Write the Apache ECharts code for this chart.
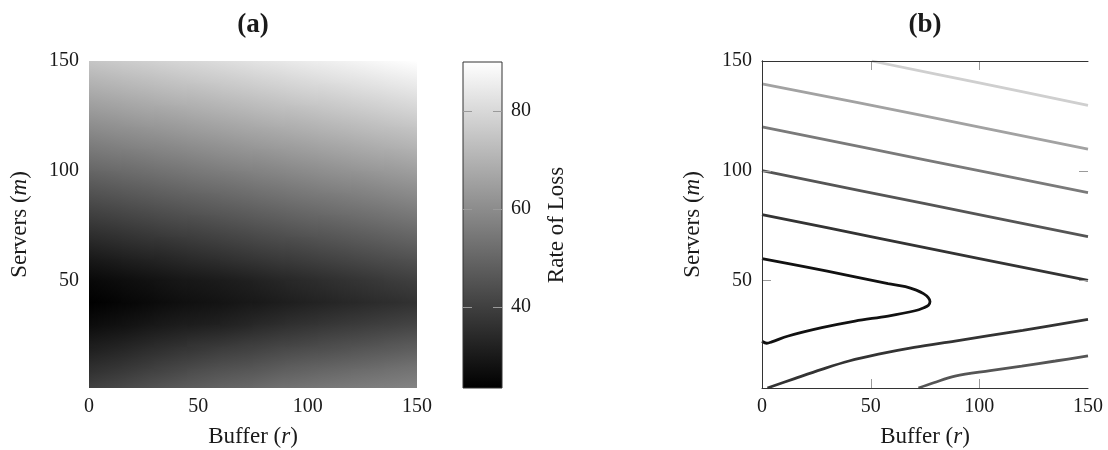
<!DOCTYPE html>
<html>
<head>
<meta charset="utf-8">
<script src="https://cdn.jsdelivr.net/npm/echarts@6/dist/echarts.min.js"></script>
<style>
html,body{margin:0;padding:0;background:#fff;}
#chart{width:1108px;height:450px;}
</style>
</head>
<body>
<div id="chart"></div>
<script>
// ---------- data ----------
const bufferTicks = [0, 50, 100, 150];
const serverTicks = [50, 100, 150];
const innerTicks = [50, 100];
const lossTicks = [40, 60, 80];
const lossMin = 23.5;
const lossMax = 90;

// heat map grid: columns = buffer r, rows = servers m (bottom to top)
const bufferX = [0, 15, 30, 45, 60, 75, 90, 105, 120, 135, 150];
const serversY = [1, 10, 20, 30, 40, 50, 60, 70, 80, 90, 100, 110, 120, 130, 140, 150];
const rateOfLoss = [
  [40, 42.3, 45, 47.3, 49, 50.8, 52.8, 54.4, 55.6, 56.6, 57.5],
  [35.5, 37.6, 40, 42.3, 44.5, 45.6, 47.9, 49.3, 50.7, 52, 53.4],
  [31, 32.6, 34.8, 36.7, 38.5, 40, 41.6, 43.1, 44.5, 46, 47.4],
  [26.5, 27.9, 29.6, 31, 31.8, 33.8, 35.7, 37.2, 38.6, 40, 41.3],
  [23.6, 25, 26.3, 27.6, 28.7, 29.9, 31.3, 32.6, 34, 35.3, 36.5],
  [25.6, 26.9, 28.2, 29.7, 30.6, 32, 33.8, 35.3, 36.9, 38.5, 40],
  [30, 31.5, 33, 34.5, 36, 37.5, 39, 40.5, 42, 43.5, 45],
  [35, 36.5, 38, 39.5, 41, 42.5, 44, 45.5, 47, 48.5, 50],
  [40, 41.5, 43, 44.5, 46, 47.5, 49, 50.5, 52, 53.5, 55],
  [45, 46.5, 48, 49.5, 51, 52.5, 54, 55.5, 57, 58.5, 60],
  [50, 51.5, 53, 54.5, 56, 57.5, 59, 60.5, 62, 63.5, 65],
  [55, 56.5, 58, 59.5, 61, 62.5, 64, 65.5, 67, 68.5, 70],
  [60, 61.5, 63, 64.5, 66, 67.5, 69, 70.5, 72, 73.5, 75],
  [65, 66.5, 68, 69.5, 71, 72.5, 74, 75.5, 77, 78.5, 80],
  [70, 71.5, 73, 74.5, 76, 77.5, 79, 80.5, 82, 83.5, 85],
  [75, 76.5, 78, 79.5, 81, 82.5, 84, 85.5, 87, 88.5, 90]
];

// contour lines [buffer r, servers m]
const level30 = [[0, 60], [20, 56.2], [40, 52.2], [58, 48.6], [66, 47.2], [71, 45.6], [74.3, 44], [76.5, 42.2], [77.3, 40.4], [76.6, 38.7], [74.5, 37.6], [70.4, 36.2], [58, 33.8], [42.8, 31.5], [27.5, 28.5], [12.1, 24.7], [4.5, 22], [2.2, 21.4], [0, 22.3]];
const level40Upper = [[0, 80], [50, 70], [100, 60], [150, 50]];
const level40Lower = [[2.5, 1], [15, 5.3], [27.5, 9.5], [40, 13.3], [53.6, 16.4], [70, 19.5], [88.8, 22.4], [120, 27.3], [150, 32.3]];
const level50Upper = [[0, 100], [75, 85], [150, 70]];
const level50Lower = [[72, 1], [79, 3.4], [88.8, 6.4], [105, 8.9], [119.5, 11], [135, 13.3], [150, 15.6]];
const level60 = [[0, 120], [75, 105], [150, 90]];
const level70 = [[0, 139.6], [73.5, 125.2], [150, 109.8]];
const level80 = [[50.5, 150], [100, 140], [150, 129.8]];

// ---------- styles ----------
const FONT = '"Liberation Serif", "DejaVu Serif", serif';
const TXT = '#1a1a1a';
const TICK_LEN = 9;
const TICK_COLOR = '#9a9a9a';
const contourStyle = [
  {data: level30, color: '#111111'},
  {data: level40Upper, color: '#333333'},
  {data: level40Lower, color: '#333333'},
  {data: level50Upper, color: '#555555'},
  {data: level50Lower, color: '#555555'},
  {data: level60, color: '#7a7a7a'},
  {data: level70, color: '#a2a2a2'},
  {data: level80, color: '#cfcfcf'}
];

function grayOf(v) {
  const t = Math.max(0, Math.min(1, (v - lossMin) / (lossMax - lossMin)));
  const g = Math.round(t * 255);
  return 'rgb(' + g + ',' + g + ',' + g + ')';
}

// cells of the heat map built from the grid
const cells = [];
for (let j = 0; j < serversY.length - 1; j++) {
  for (let i = 0; i < bufferX.length - 1; i++) {
    cells.push([bufferX[i], serversY[j], bufferX[i + 1], serversY[j + 1],
      rateOfLoss[j][i], rateOfLoss[j][i + 1], rateOfLoss[j + 1][i], rateOfLoss[j + 1][i + 1]]);
  }
}

function renderCell(params, api) {
  const x0 = api.value(0), y0 = api.value(1), x1 = api.value(2), y1 = api.value(3);
  const v00 = api.value(4), v10 = api.value(5), v01 = api.value(6), v11 = api.value(7);
  const pBL = api.coord([x0, y0]);
  const pTR = api.coord([x1, y1]);
  const L = pBL[0], B = pBL[1], R = pTR[0], T = pTR[1];
  const W = R - L, H = B - T;
  const m = (v00 + v10 + v01 + v11) / 4;
  const b = ((v10 - v00) + (v11 - v01)) / 2;
  const c = ((v01 - v00) + (v11 - v10)) / 2;
  const gx = b / W, gy = -c / H;
  const gl = Math.hypot(gx, gy);
  let fill;
  if (gl < 1e-9) {
    fill = grayOf(m);
  } else {
    const dx = gx / gl, dy = gy / gl;
    const t = W / 2 * Math.abs(dx) + H / 2 * Math.abs(dy);
    const cx = (L + R) / 2, cy = (T + B) / 2;
    fill = {
      type: 'linear', global: true,
      x: cx - dx * t, y: cy - dy * t, x2: cx + dx * t, y2: cy + dy * t,
      colorStops: [{offset: 0, color: grayOf(m - gl * t)}, {offset: 1, color: grayOf(m + gl * t)}]
    };
  }
  return {
    type: 'rect',
    shape: {x: L - 0.5, y: T - 0.5, width: W + 1, height: H + 1},
    style: {fill: fill}
  };
}

function renderBar(params, api) {
  const p0 = api.coord([api.value(0), api.value(1)]);
  const p1 = api.coord([api.value(2), api.value(3)]);
  return {
    type: 'rect',
    shape: {x: p0[0], y: p1[1], width: p1[0] - p0[0], height: p0[1] - p1[1]},
    style: {
      fill: {type: 'linear', x: 0, y: 1, x2: 0, y2: 0,
        colorStops: [{offset: 0, color: grayOf(lossMin)}, {offset: 1, color: grayOf(lossMax)}]},
      stroke: '#333', lineWidth: 1
    }
  };
}

// inward tick marks on both edges: item = [edgeA, value, edgeB]
function renderYTicks(params, api) {
  const a = api.coord([api.value(0), api.value(1)]);
  const b = api.coord([api.value(2), api.value(1)]);
  const y = Math.round(a[1]) + 0.5;
  const st = {stroke: TICK_COLOR, lineWidth: 1};
  return {type: 'group', children: [
    {type: 'line', shape: {x1: a[0], y1: y, x2: a[0] + TICK_LEN, y2: y}, style: st},
    {type: 'line', shape: {x1: b[0] - TICK_LEN, y1: y, x2: b[0], y2: y}, style: st}
  ]};
}
function renderXTicks(params, api) {
  const a = api.coord([api.value(0), api.value(1)]);
  const b = api.coord([api.value(0), api.value(2)]);
  const x = Math.round(a[0]) + 0.5;
  const st = {stroke: TICK_COLOR, lineWidth: 1};
  return {type: 'group', children: [
    {type: 'line', shape: {x1: x, y1: a[1], x2: x, y2: a[1] - TICK_LEN}, style: st},
    {type: 'line', shape: {x1: x, y1: b[1] + TICK_LEN, x2: x, y2: b[1]}, style: st}
  ]};
}

const labelStyle = {fontFamily: FONT, fontSize: 20, color: TXT};
const richName = {
  n: {fontFamily: FONT, fontSize: 23, color: TXT},
  i: {fontFamily: FONT, fontSize: 23, color: TXT, fontStyle: 'italic'}
};
const frameLine = {show: true, lineStyle: {color: '#333', width: 1}};

const chart = echarts.init(document.getElementById('chart'), null, {renderer: 'canvas'});
chart.setOption({
  animation: false,
  backgroundColor: '#fff',
  graphic: [
    {type: 'text', x: 253, y: 25, style: {text: '(a)', font: 'bold 27px ' + FONT, fill: TXT, align: 'center', verticalAlign: 'middle'}},
    {type: 'text', x: 925, y: 25, style: {text: '(b)', font: 'bold 27px ' + FONT, fill: TXT, align: 'center', verticalAlign: 'middle'}}
  ],
  grid: [
    {left: 89, top: 61, width: 328, height: 327, outerBoundsMode: 'none', containLabel: false},
    {left: 463, top: 62, width: 39, height: 326, outerBoundsMode: 'none', containLabel: false},
    {left: 762, top: 61, width: 326, height: 327, outerBoundsMode: 'none', containLabel: false}
  ],
  xAxis: [
    {gridIndex: 0, type: 'value', min: 0, max: 150, interval: 50,
      axisLine: {show: false}, axisTick: {show: false}, splitLine: {show: false},
      axisLabel: Object.assign({margin: 9, customValues: bufferTicks}, labelStyle),
      name: '{n|Buffer (}{i|r}{n|)}', nameLocation: 'middle', nameGap: 37,
      nameTextStyle: {rich: richName}},
    {gridIndex: 1, type: 'value', min: 0, max: 1, show: false},
    {gridIndex: 2, type: 'value', min: 0, max: 150, interval: 50, position: 'bottom', z: 5,
      axisLine: frameLine, axisTick: {show: false}, splitLine: {show: false},
      axisLabel: Object.assign({margin: 9, customValues: bufferTicks}, labelStyle),
      name: '{n|Buffer (}{i|r}{n|)}', nameLocation: 'middle', nameGap: 37,
      nameTextStyle: {rich: richName}},
    {gridIndex: 2, type: 'value', min: 0, max: 150, interval: 50, position: 'top', z: 5,
      axisLine: frameLine, axisTick: {show: false}, splitLine: {show: false}, axisLabel: {show: false}}
  ],
  yAxis: [
    {gridIndex: 0, type: 'value', min: 1, max: 150,
      axisLine: {show: false}, axisTick: {show: false}, splitLine: {show: false},
      axisLabel: Object.assign({margin: 10, customValues: serverTicks}, labelStyle),
      name: '{n|Servers (}{i|m}{n|)}', nameLocation: 'middle', nameGap: 58, nameRotate: 90,
      nameTextStyle: {rich: richName}},
    {gridIndex: 1, type: 'value', min: lossMin, max: lossMax, position: 'right',
      axisLine: {show: false}, axisTick: {show: false}, splitLine: {show: false},
      axisLabel: Object.assign({margin: 9, customValues: lossTicks}, labelStyle),
      name: 'Rate of Loss', nameLocation: 'middle', nameGap: 43, nameRotate: 90,
      nameTextStyle: {fontFamily: FONT, fontSize: 23, color: TXT}},
    {gridIndex: 2, type: 'value', min: 1, max: 150, position: 'left', z: 5,
      axisLine: frameLine, axisTick: {show: false}, splitLine: {show: false},
      axisLabel: Object.assign({margin: 10, customValues: serverTicks}, labelStyle),
      name: '{n|Servers (}{i|m}{n|)}', nameLocation: 'middle', nameGap: 58, nameRotate: 90,
      nameTextStyle: {rich: richName}},
    {gridIndex: 2, type: 'value', min: 1, max: 150, position: 'right', z: 5,
      axisLine: frameLine, axisTick: {show: false}, splitLine: {show: false}, axisLabel: {show: false}}
  ],
  series: [
    {type: 'custom', xAxisIndex: 0, yAxisIndex: 0, clip: true, silent: true,
      renderItem: renderCell, encode: {x: [0, 2], y: [1, 3]}, data: cells},
    {type: 'custom', xAxisIndex: 1, yAxisIndex: 1, silent: true, z: 1,
      renderItem: renderBar, encode: {x: [0, 2], y: [1, 3]}, data: [[0, lossMin, 1, lossMax]]},
    {type: 'custom', xAxisIndex: 1, yAxisIndex: 1, silent: true, z: 4,
      renderItem: renderYTicks, encode: {x: [0, 2], y: 1},
      data: lossTicks.map(function (v) { return [0, v, 1]; })},
    {type: 'custom', xAxisIndex: 2, yAxisIndex: 2, silent: true, z: 4,
      renderItem: renderYTicks, encode: {x: [0, 2], y: 1},
      data: innerTicks.map(function (v) { return [0, v, 150]; })},
    {type: 'custom', xAxisIndex: 2, yAxisIndex: 2, silent: true, z: 4,
      renderItem: renderXTicks, encode: {x: 0, y: [1, 2]},
      data: innerTicks.map(function (v) { return [v, 1, 150]; })}
  ].concat(contourStyle.map(function (c) {
    return {type: 'line', xAxisIndex: 2, yAxisIndex: 2, data: c.data, showSymbol: false, smooth: 0.35,
      silent: true, clip: true, z: 3, lineStyle: {color: c.color, width: 2.8}};
  }))
});
</script>
</body>
</html>
